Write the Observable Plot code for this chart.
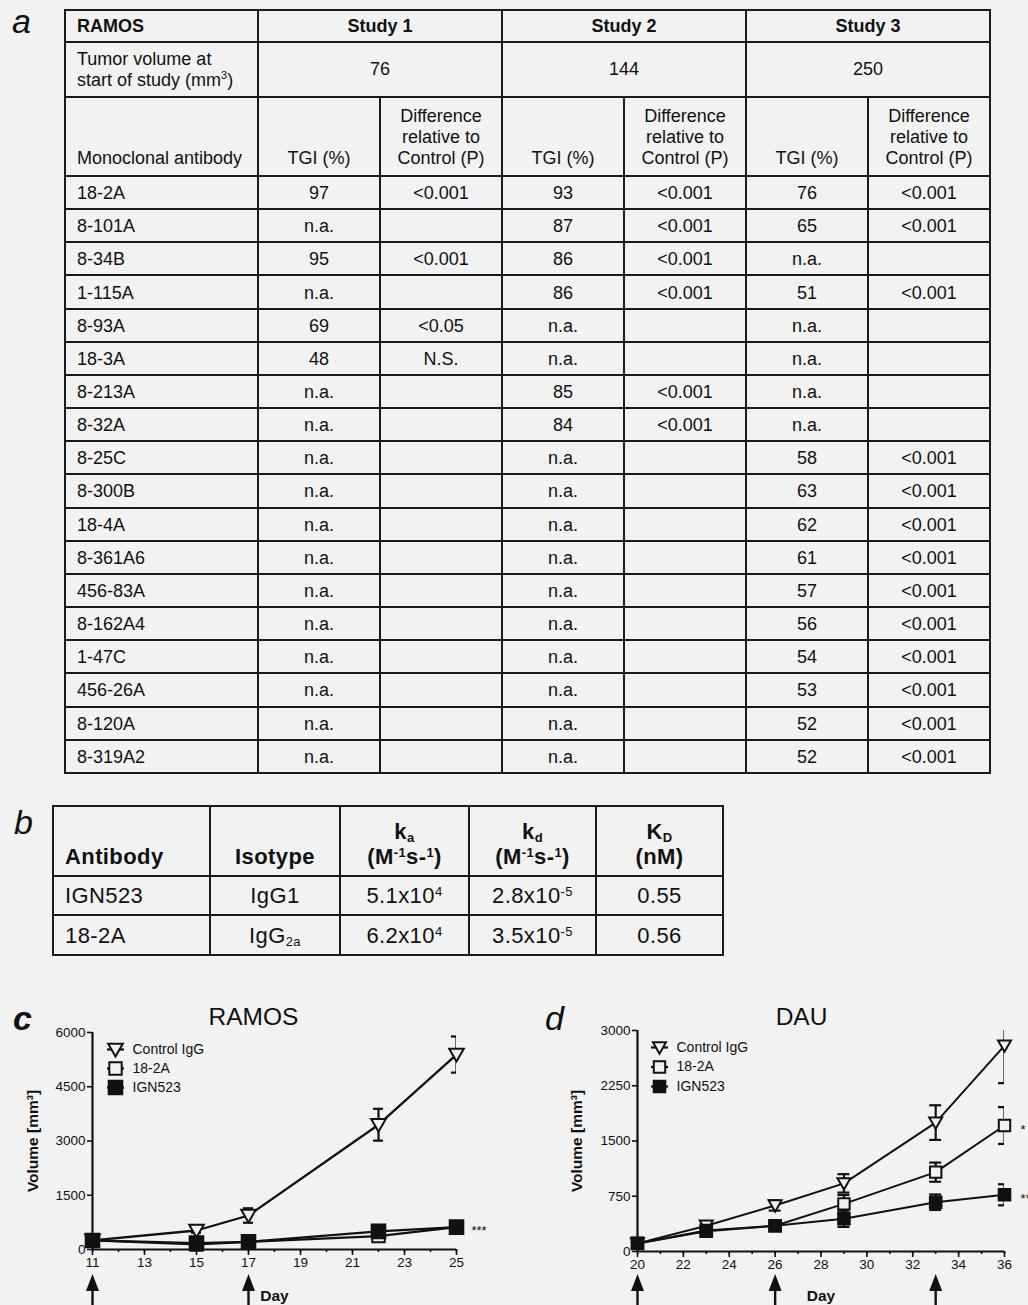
<!DOCTYPE html>
<html>
<head>
<meta charset="utf-8">
<script src="https://cdn.jsdelivr.net/npm/d3@7"></script>
<script src="https://cdn.jsdelivr.net/npm/@observablehq/plot@0.6"></script>
<style>
html,body{margin:0;padding:0;background:#f2f2f2;}
body{font-family:"Liberation Sans",Arial,Helvetica,sans-serif;color:#111;}
#page{position:relative;width:1028px;height:1305px;overflow:hidden;}
.abs{position:absolute;}
.letter{position:absolute;font-size:34px;line-height:1;font-style:italic;z-index:2;}
.grid{position:absolute;display:grid;border-left:2px solid #1b1b1b;border-top:2px solid #1b1b1b;}
.grid>div{border-right:2px solid #1b1b1b;border-bottom:2px solid #1b1b1b;display:flex;align-items:center;justify-content:center;box-sizing:border-box;text-align:center;}
.grid>div.l{justify-content:flex-start;text-align:left;padding-left:11px;}
.grid>div.bt{align-items:flex-end;}
.grid>div.bold{font-weight:bold;}
#ta{left:64px;top:9px;grid-template-columns:193px repeat(6,122px);grid-template-rows:32px 55px 79px repeat(18,33.17px);font-size:18px;line-height:21px;}
#ta>div.bt{padding-bottom:6px;}
#ta>div.dr{padding-top:2px;}
#tb{left:52px;top:805px;grid-template-columns:157px 130px 129px 127px 127px;grid-template-rows:70px 39px 40px;font-size:22px;line-height:25px;letter-spacing:0.4px;}
#tb>div.bt{padding-bottom:6px;}
#tb sup{font-size:13px;line-height:0;vertical-align:0.55em;}
#tb sub{font-size:13px;line-height:0;vertical-align:-0.2em;}
#ta sup{font-size:11px;line-height:0;}
</style>
</head>
<body>
<div id="page">
  <div class="letter" style="left:12px;top:4px">a</div>
  <div id="ta" class="grid"></div>
  <div class="letter" style="left:14px;top:805px">b</div>
  <div id="tb" class="grid"></div>
  <div id="cc" class="abs" style="left:0;top:1000px"></div>
  <div id="cd" class="abs" style="left:514px;top:1000px"></div>
  <div class="letter" style="left:13px;top:1001px;font-weight:bold">c</div>
  <div class="letter" style="left:545px;top:1001px">d</div>
</div>
<script>
// ---------------- Table a (RAMOS studies) ----------------
const tableATitle = "RAMOS";
const studies = ["Study 1", "Study 2", "Study 3"];
const startVolumes = ["76", "144", "250"];
const antibodies = ["18-2A","8-101A","8-34B","1-115A","8-93A","18-3A","8-213A","8-32A","8-25C","8-300B","18-4A","8-361A6","456-83A","8-162A4","1-47C","456-26A","8-120A","8-319A2"];
const tgiStudy1 = ["97","n.a.","95","n.a.","69","48","n.a.","n.a.","n.a.","n.a.","n.a.","n.a.","n.a.","n.a.","n.a.","n.a.","n.a.","n.a."];
const pStudy1   = ["<0.001","","<0.001","","<0.05","N.S.","","","","","","","","","","","",""];
const tgiStudy2 = ["93","87","86","86","n.a.","n.a.","85","84","n.a.","n.a.","n.a.","n.a.","n.a.","n.a.","n.a.","n.a.","n.a.","n.a."];
const pStudy2   = ["<0.001","<0.001","<0.001","<0.001","","","<0.001","<0.001","","","","","","","","","",""];
const tgiStudy3 = ["76","65","n.a.","51","n.a.","n.a.","n.a.","n.a.","58","63","62","61","57","56","54","53","52","52"];
const pStudy3   = ["<0.001","<0.001","","<0.001","","","","","<0.001","<0.001","<0.001","<0.001","<0.001","<0.001","<0.001","<0.001","<0.001","<0.001"];

// ---------------- Table b (kinetics) ----------------
const kinHeaders = ["Antibody", "Isotype", "k<sub>a</sub><br>(M<sup>-1</sup>s-<sup>1</sup>)", "k<sub>d</sub><br>(M<sup>-1</sup>s-<sup>1</sup>)", "K<sub>D</sub><br>(nM)"];
const kinAntibodies = ["IGN523", "18-2A"];
const kinIsotypes = ["IgG1", "IgG<sub>2a</sub>"];
const kinKa = ["5.1x10<sup>4</sup>", "6.2x10<sup>4</sup>"];
const kinKd = ["2.8x10<sup>-5</sup>", "3.5x10<sup>-5</sup>"];
const kinKD = ["0.55", "0.56"];

// ---------------- Chart c (RAMOS) ----------------
const ramosDays = [11, 15, 17, 22, 25];
const ramosControl = [250, 525, 940, 3450, 5390];
const ramosControlSem = [30, 60, 200, 440, 500];
const ramos182A = [250, 140, 210, 370, 620];
const ramos182ASem = [20, 25, 30, 60, 40];
const ramosIGN523 = [250, 175, 210, 500, 620];
const ramosIGN523Sem = [20, 25, 30, 40, 40];
const ramosDosing = [11, 17];
const ramosSig = ["", "", "***"];

// ---------------- Chart d (DAU) ----------------
const dauDays = [20, 23, 26, 29, 33, 36];
const dauControl = [110, 350, 625, 925, 1750, 2795];
const dauControlSem = [15, 40, 70, 125, 235, 510];
const dau182A = [110, 285, 350, 647, 1077, 1710];
const dau182ASem = [15, 30, 35, 120, 130, 250];
const dauIGN523 = [110, 276, 349, 444, 669, 770];
const dauIGN523Sem = [15, 30, 35, 110, 105, 143];
const dauDosing = [20, 26, 33];
const dauSig = ["", "*", "**"];

const seriesNames = ["Control IgG", "18-2A", "IGN523"];

// ---------------- build tables ----------------
function cell(html, cls) { const d = document.createElement("div"); d.className = cls || ""; d.innerHTML = "<div>" + html + "</div>"; return d; }
function esc(s) { return s.replace(/</g, "&lt;"); }
const ta = document.getElementById("ta");
{
  ta.appendChild(cell(tableATitle, "l bold"));
  studies.forEach(s => { const c = cell(s, "bold"); c.style.gridColumn = "span 2"; ta.appendChild(c); });
  ta.appendChild(cell("Tumor volume at<br>start of study (mm<sup>3</sup>)", "l"));
  startVolumes.forEach(v => { const c = cell(v); c.style.gridColumn = "span 2"; ta.appendChild(c); });
  ta.appendChild(cell("Monoclonal antibody", "l bt"));
  studies.forEach(() => { ta.appendChild(cell("TGI (%)", "bt")); ta.appendChild(cell("Difference<br>relative to<br>Control (P)", "bt")); });
  const tg = [tgiStudy1, tgiStudy2, tgiStudy3], pv = [pStudy1, pStudy2, pStudy3];
  antibodies.forEach((ab, i) => {
    ta.appendChild(cell(ab, "l dr"));
    for (let s = 0; s < 3; s++) { ta.appendChild(cell(esc(tg[s][i]), "dr")); ta.appendChild(cell(esc(pv[s][i]), "dr")); }
  });
}
const tb = document.getElementById("tb");
{
  kinHeaders.forEach((h, i) => tb.appendChild(cell(h, (i === 0 ? "l " : "") + "bt bold")));
  kinAntibodies.forEach((ab, i) => {
    tb.appendChild(cell(ab, "l"));
    tb.appendChild(cell(kinIsotypes[i]));
    tb.appendChild(cell(kinKa[i]));
    tb.appendChild(cell(kinKd[i]));
    tb.appendChild(cell(kinKD[i]));
  });
}

// ---------------- charts ----------------
const BG = "#f2f2f2", INK = "#111";
const sym = f => ({draw(ctx, size) { f(ctx, Math.sqrt(size / Math.PI)); }});
const triDown = sym((c, r) => { c.moveTo(-r, -0.8 * r); c.lineTo(r, -0.8 * r); c.lineTo(0, 0.95 * r); c.closePath(); });
const square = sym((c, r) => { c.moveTo(-r, -r); c.lineTo(r, -r); c.lineTo(r, r); c.lineTo(-r, r); c.closePath(); });
const arrowHead = sym((c, r) => { c.moveTo(0, -1.3 * r); c.lineTo(r, 1.3 * r); c.lineTo(-r, 1.3 * r); c.closePath(); });
const hseg = sym((c, r) => { c.moveTo(-r, 0); c.lineTo(r, 0); });

function makeChart(cfg) {
  const rows = [];
  cfg.series.forEach(s => s.values.forEach((v, i) => rows.push({series: s.name, day: cfg.days[i], v, lo: v - s.sem[i], hi: v + s.sem[i], sig: i === s.values.length - 1 ? s.sig : ""})));
  const [x0, x1] = cfg.xDomain;
  const fh = cfg.height - cfg.mT - cfg.mB;
  const marks = [
    Plot.axisX({ticks: d3.range(x0, x1 + 1), tickSize: 3, tickFormat: () => "", strokeWidth: 1.6, label: null}),
    Plot.axisX({ticks: cfg.xTicks, tickSize: 6, tickPadding: 2, tickFormat: "d", fontSize: 13.5, strokeWidth: 1.6, label: null}),
    Plot.axisY({ticks: cfg.yTicks, tickSize: 5, tickPadding: 2, tickFormat: "d", fontSize: 13.5, strokeWidth: 1.6, label: null}),
    Plot.ruleY([cfg.yDomain[0]], {strokeWidth: 2.2, stroke: INK}),
    Plot.ruleX([x0], {strokeWidth: 2.2, stroke: INK}),
    Plot.text(["Volume [mm³]"], {frameAnchor: "left", rotate: -90, dx: cfg.yLabelDx, textAnchor: "middle", fontWeight: "bold", fontSize: 15.5, fill: INK}),
    Plot.text([cfg.title], {frameAnchor: "top-left", dx: cfg.titleDx, dy: cfg.titleDy, textAnchor: "middle", lineAnchor: "bottom", fontSize: 24.5, fill: INK}),
    Plot.text(["Day"], {frameAnchor: "bottom", dy: cfg.dayDy, textAnchor: "middle", lineAnchor: "bottom", fontWeight: "bold", fontSize: 15.5, fill: INK}),
    // dosing arrows
    Plot.ruleX(cfg.dosing, {x: d => d, insetTop: fh + 30, insetBottom: -cfg.mB, strokeWidth: 2.4, stroke: INK}),
    Plot.dot(cfg.dosing, {x: d => d, frameAnchor: "bottom", dy: cfg.arrowDy, symbol: arrowHead, r: 6.5, fill: INK, stroke: "none"}),
    // error bars
    Plot.ruleX(rows, {x: "day", y1: "lo", y2: "hi", stroke: INK, strokeWidth: 2.2, clip: true}),
    Plot.ruleY(rows, {x1: "day", x2: "day", y: "hi", insetLeft: -cfg.cap, insetRight: -cfg.cap, stroke: INK, strokeWidth: 2.2, clip: true}),
    Plot.ruleY(rows, {x1: "day", x2: "day", y: "lo", insetLeft: -cfg.cap, insetRight: -cfg.cap, stroke: INK, strokeWidth: 2.2, clip: true}),
    Plot.line(rows, {x: "day", y: "v", z: "series", stroke: INK, strokeWidth: cfg.lw})
  ];
  cfg.series.forEach((s, i) => {
    marks.push(Plot.dot(rows.filter(d => d.series === s.name), {x: "day", y: "v", symbol: s.symbol, r: s.r, fill: s.fill, stroke: INK, strokeWidth: 2}));
    const ly = cfg.legendDy + i * cfg.legendStep;
    marks.push(Plot.dot([s.name], {frameAnchor: "top-left", dx: cfg.legendDx, dy: ly, symbol: hseg, r: 8.5, stroke: INK, strokeWidth: 2.2, fill: "none"}));
    marks.push(Plot.dot([s.name], {frameAnchor: "top-left", dx: cfg.legendDx, dy: ly, symbol: s.symbol, r: s.r, fill: s.fill, stroke: INK, strokeWidth: 2}));
    marks.push(Plot.text([s.name], {frameAnchor: "top-left", dx: cfg.legendDx + 17, dy: ly, textAnchor: "start", lineAnchor: "middle", fontSize: 14, fill: INK}));
  });
  marks.push(Plot.text(rows.filter(d => d.sig), {x: "day", y: "v", text: "sig", dx: cfg.sigDx, dy: 4, textAnchor: "start", fontSize: 13, fill: INK}));
  return Plot.plot({
    width: cfg.width, height: cfg.height,
    marginLeft: cfg.mL, marginRight: cfg.mR, marginTop: cfg.mT, marginBottom: cfg.mB,
    style: {background: "transparent", fontFamily: "'Liberation Sans', Arial, sans-serif", fontSize: "13.5px", color: INK, overflow: "visible"},
    x: {domain: cfg.xDomain, label: null},
    y: {domain: cfg.yDomain, label: null},
    marks
  });
}

const mkSeries = (vals, sems, sigs, big) => seriesNames.map((name, i) => ({
  name, values: vals[i], sem: sems[i], sig: sigs[i],
  symbol: i === 0 ? triDown : square,
  fill: i === 2 ? INK : BG,
  r: i === 0 ? (big ? 7.3 : 6.5) : i === 1 ? (big ? 6.2 : 5.7) : (big ? 6.8 : 5.8)
}));

document.getElementById("cc").appendChild(makeChart({
  width: 514, height: 305, mL: 92, mR: 58, mT: 32, mB: 56,
  days: ramosDays, xDomain: [11, 25], xTicks: d3.range(11, 26, 2),
  yDomain: [0, 6000], yTicks: [0, 1500, 3000, 4500, 6000],
  series: mkSeries([ramosControl, ramos182A, ramosIGN523], [ramosControlSem, ramos182ASem, ramosIGN523Sem], ramosSig, true),
  dosing: ramosDosing, title: "RAMOS", titleDx: 161, titleDy: -8, dayDy: 51, arrowDy: 33,
  yLabelDx: -59, legendDx: 23, legendDy: 17, legendStep: 19, sigDx: 15, cap: 5, lw: 2.3
}));
document.getElementById("cd").appendChild(makeChart({
  width: 514, height: 305, mL: 123, mR: 24, mT: 30, mB: 54,
  days: dauDays, xDomain: [20, 36], xTicks: d3.range(20, 37, 2),
  yDomain: [0, 3000], yTicks: [0, 750, 1500, 2250, 3000],
  series: mkSeries([dauControl, dau182A, dauIGN523], [dauControlSem, dau182ASem, dauIGN523Sem], dauSig, false),
  dosing: dauDosing, title: "DAU", titleDx: 164, titleDy: -6, dayDy: 49, arrowDy: 31,
  yLabelDx: -60, legendDx: 22, legendDy: 17, legendStep: 19.5, sigDx: 16, cap: 6, lw: 2
}));
</script>
</body>
</html>
